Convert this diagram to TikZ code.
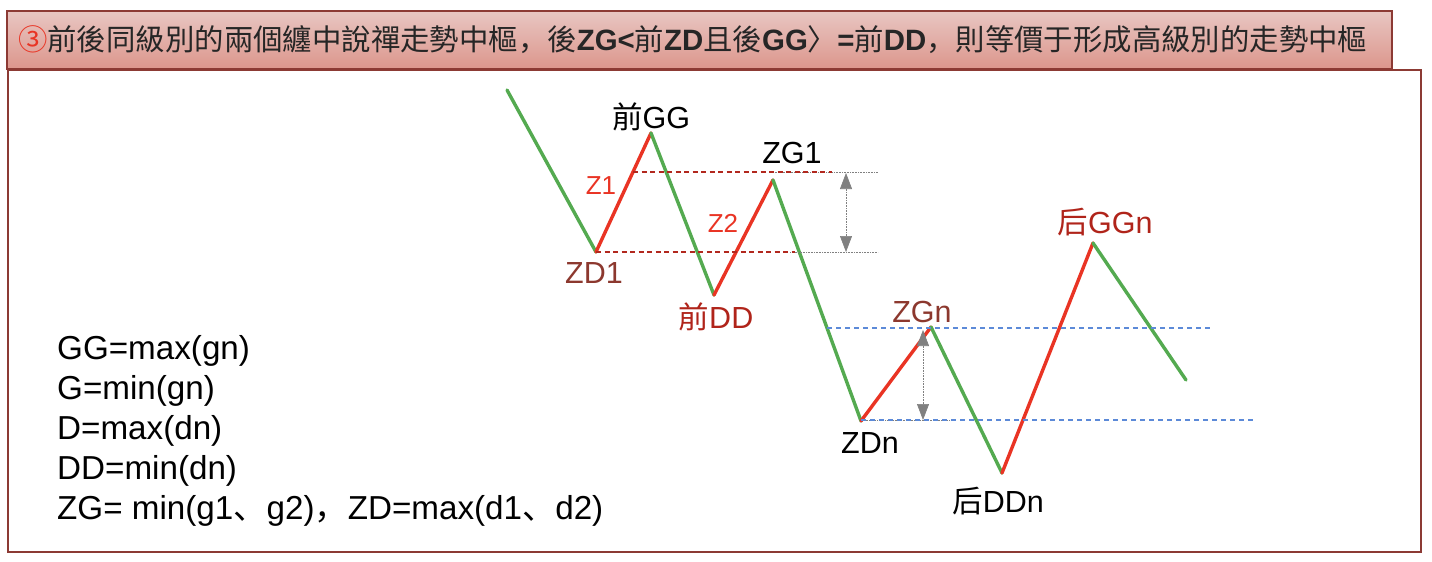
\documentclass[tikz,border=0pt]{standalone}
\usepackage{fontspec}
\setmainfont{Liberation Sans}
\newfontfamily\cjk{Noto Sans CJK TC}
\newfontfamily\cjkp{Noto Sans CJK SC}
\usetikzlibrary{arrows.meta}
\definecolor{frame}{RGB}{140,58,52}
\definecolor{bartop}{RGB}{232,198,194}
\definecolor{barmid}{RGB}{192,100,90}
\definecolor{barbot}{RGB}{220,150,140}
\definecolor{upc}{RGB}{233,52,36}
\definecolor{dnc}{RGB}{84,170,80}
\definecolor{dashred}{RGB}{178,40,30}
\definecolor{dashblue}{RGB}{92,138,216}
\definecolor{brownlbl}{RGB}{140,56,46}
\definecolor{redlbl}{RGB}{176,36,26}
\newcommand{\fs}[2]{\fontsize{#1}{#2}\selectfont}
\tikzset{up/.style={draw=upc,line width=3.4pt,line cap=round},
  dn/.style={draw=dnc,line width=3.4pt,line cap=round},
  lbl/.style={inner sep=0pt,font=\fs{30.5}{36}},
  zlbl/.style={inner sep=0pt,font=\fs{26}{30},text=upc},
  hl/.style={draw=dashred,line width=2.4pt,dash pattern=on 5pt off 3.5pt},
  bl/.style={draw=dashblue,line width=2pt,dash pattern=on 5pt off 4pt},
  ext/.style={draw=gray,line width=0.6pt,densely dotted},
  dim/.style={ext,{Triangle[width=12pt,length=16pt,fill=gray]}-{Triangle[width=12pt,length=16pt,fill=gray]}},
  defs/.style={anchor=base west,inner sep=0pt,font=\fs{33.2}{40}}}

\begin{document}
\begin{tikzpicture}[x=1pt,y=-1pt]
\useasboundingbox (0,0) rectangle (1432,562);
\draw[frame,line width=2.2pt] (8,70) rectangle (1421,552);
\shade[top color=bartop,middle color=barmid,bottom color=barbot] (7,11) rectangle (1392,69);
\draw[frame,line width=1.6pt] (7,11) rectangle (1392,69);
\node[anchor=west,inner sep=0pt,font=\fs{29.4}{36},text=black!85] (title) at (18,40)
 {{\cjk\color{upc}③}{\cjk 前後同級別的兩個纏中說禪走勢中樞}{\cjkp ，}{\cjk 後}\textbf{ZG<}{\cjk 前}\textbf{ZD}{\cjk 且後}\textbf{GG}{\cjkp 〉}\textbf{=}{\cjk 前}\textbf{DD}{\cjkp ，}{\cjk 則等價于形成高級別的走勢中樞}};

\coordinate (s0) at (507,90);
\coordinate (zd1) at (596,252);
\coordinate (gg) at (651,133);
\coordinate (dd) at (714,295);
\coordinate (zg1) at (773,180);
\coordinate (zdn) at (861,421);
\coordinate (zgn) at (931,327);
\coordinate (ddn) at (1002,473);
\coordinate (ggn) at (1093,243);
\coordinate (s9) at (1186,380);
\foreach \a/\b/\s in {s0/zd1/dn,zd1/gg/up,gg/dd/dn,dd/zg1/up,zg1/zdn/dn,zdn/zgn/up,zgn/ddn/dn,ddn/ggn/up,ggn/s9/dn}
 \draw[\s] (\a) -- (\b);

\coordinate (h1a) at (633,172);
\coordinate (h1b) at (832,172);
\coordinate (h1c) at (770,172);
\coordinate (h1d) at (878,172);
\coordinate (h2b) at (795,252);
\coordinate (h2c) at (790,252);
\coordinate (h2d) at (878,252);
\draw[ext] (h1c) -- (h1d);
\draw[ext] (h2c) -- (h2d);
\draw[hl] (h1a) -- (h1b);
\draw[hl] (zd1) -- (h2b);
\coordinate (v1a) at (846,173);
\coordinate (v1b) at (846,252);
\draw[dim] (v1a) -- (v1b);

\coordinate (b1a) at (827,328);
\coordinate (b1b) at (1213,328);
\coordinate (b2a) at (861,420);
\coordinate (b2b) at (1253,420);
\coordinate (b2c) at (953,420);
\draw[ext] (b2a) -- (b2c);
\draw[bl] (b1a) -- (b1b);
\draw[bl] (b2a) -- (b2b);
\coordinate (v2a) at (923,330);
\coordinate (v2b) at (923,420);
\draw[dim] (v2a) -- (v2b);

\node[lbl] (lgg) at (651,117) {{\cjk 前}GG};
\node[lbl] (lzg1) at (792,153) {ZG1};
\node[lbl,text=brownlbl] (lzd1) at (594,273) {ZD1};
\node[lbl,text=redlbl] (ldd) at (716,317) {{\cjk 前}DD};
\node[zlbl] (lz1) at (601,186) {Z1};
\node[zlbl] (lz2) at (723,223) {Z2};
\node[lbl,text=brownlbl] (lzgn) at (922,312) {ZGn};
\node[lbl] (lzdn) at (870,443) {ZDn};
\node[lbl,text=redlbl] (lggn) at (1105,222) {{\cjk 后}GGn};
\node[lbl] (lddn) at (998,501) {{\cjk 后}DDn};

\node[defs] (d1) at (57,359) {GG=max(gn)};
\node[defs] (d2) at (57,399) {G=min(gn)};
\node[defs] (d3) at (57,439) {D=max(dn)};
\node[defs] (d4) at (57,479) {DD=min(dn)};
\node[defs] (d5) at (57,519) {ZG= min(g1{\cjkp 、}g2){\cjkp ，}ZD=max(d1{\cjkp 、}d2)};
\end{tikzpicture}
\end{document}
